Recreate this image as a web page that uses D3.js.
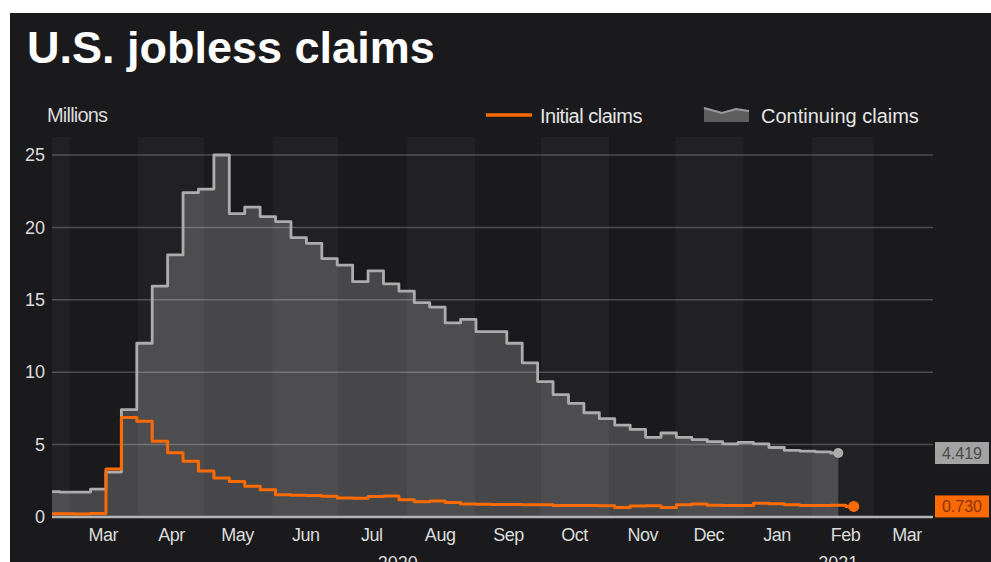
<!DOCTYPE html>
<html>
<head>
<meta charset="utf-8">
<script src="https://cdn.jsdelivr.net/npm/d3@7"></script>
<style>
  html, body { margin: 0; padding: 0; background: #fff; }
  svg { display: block; font-family: "Liberation Sans", Arial, sans-serif; }
</style>
</head>
<body>
<div id="app"></div>
<script>
// weekly data (week ending), millions
const weeks = [
  "2020-02-22", "2020-02-29", "2020-03-07", "2020-03-14", "2020-03-21", "2020-03-28",
  "2020-04-04", "2020-04-11", "2020-04-18", "2020-04-25", "2020-05-02", "2020-05-09",
  "2020-05-16", "2020-05-23", "2020-05-30", "2020-06-06", "2020-06-13", "2020-06-20",
  "2020-06-27", "2020-07-04", "2020-07-11", "2020-07-18", "2020-07-25", "2020-08-01",
  "2020-08-08", "2020-08-15", "2020-08-22", "2020-08-29", "2020-09-05", "2020-09-12",
  "2020-09-19", "2020-09-26", "2020-10-03", "2020-10-10", "2020-10-17", "2020-10-24",
  "2020-10-31", "2020-11-07", "2020-11-14", "2020-11-21", "2020-11-28", "2020-12-05",
  "2020-12-12", "2020-12-19", "2020-12-26", "2021-01-02", "2021-01-09", "2021-01-16",
  "2021-01-23", "2021-01-30", "2021-02-06", "2021-02-13", "2021-02-20"
];

const initialClaims = [
  0.22, 0.22, 0.21, 0.25, 3.31, 6.87, 6.62, 5.24, 4.43, 3.85, 3.18, 2.69,
  2.45, 2.12, 1.88, 1.54, 1.51, 1.48, 1.43, 1.31, 1.30, 1.42, 1.45, 1.19,
  1.05, 1.11, 1.01, 0.90, 0.88, 0.86, 0.87, 0.84, 0.84, 0.80, 0.79, 0.79,
  0.78, 0.66, 0.76, 0.78, 0.66, 0.85, 0.90, 0.82, 0.79, 0.80, 0.95, 0.92,
  0.85, 0.80, 0.80, 0.82, 0.730
];

const continuingClaims = [
  1.75, 1.72, 1.72, 1.92, 3.10, 7.42, 12.0, 15.95, 18.1, 22.4, 22.65, 25.0,
  20.95, 21.4, 20.75, 20.4, 19.3, 18.9, 17.85, 17.4, 16.25, 17.0, 16.1, 15.6,
  14.8, 14.5, 13.4, 13.65, 12.8, 12.8, 12.0, 10.65, 9.35, 8.45, 7.85, 7.2,
  6.8, 6.35, 6.05, 5.5, 5.8, 5.5, 5.35, 5.2, 5.05, 5.15, 5.05, 4.8,
  4.6, 4.55, 4.5, 4.419
];

const yTicks = [0, 5, 10, 15, 20, 25];
const yearLabels = [2020, 2021];

const draw = () => {
    const width = 991;
    const height = 562;
    const left = 52, right = 933, top = 137, base = 517;

    const svg = d3.select('#app')
        .append('svg')
        .attr('width', width)
        .attr('height', height);

    // dark card (white margin top/left as in the screenshot)
    svg.append('rect')
        .attr('x', 10).attr('y', 13)
        .attr('width', width - 10).attr('height', height - 13)
        .attr('fill', '#1a1a1c');

    const parse = d3.timeParse('%Y-%m-%d');
    const dates = weeks.map(parse);

    const x = d3.scaleTime()
        .domain([new Date(2020, 1, 22, 0), new Date(2021, 2, 28, 0)])
        .range([left, right]);
    const y = d3.scaleLinear().domain([0, 25]).range([base, 155]);

    // alternating month bands
    const months = d3.timeMonth.range(new Date(2020, 1, 1), new Date(2021, 3, 1));
    svg.append('g').selectAll('rect')
        .data(months.filter(m => m.getMonth() % 2 === 1))
        .enter()
        .append('rect')
        .attr('x', d => Math.max(left, x(d)))
        .attr('width', d => Math.min(right, x(d3.timeMonth.offset(d, 1))) - Math.max(left, x(d)))
        .attr('y', top)
        .attr('height', base - top)
        .attr('fill', '#212123');

    const cont = dates.slice(0, continuingClaims.length).map((d, i) => ({ date: d, value: continuingClaims[i] }));
    const init = dates.map((d, i) => ({ date: d, value: initialClaims[i] }));

    const area = d3.area()
        .x(d => x(d.date))
        .y0(y(0))
        .y1(d => y(d.value))
        .curve(d3.curveStep);

    svg.append('path')
        .datum(cont)
        .attr('d', area)
        .attr('fill', 'rgba(255,255,255,0.2)');

    // gridlines
    svg.append('g').selectAll('line')
        .data(yTicks.filter(t => t > 0))
        .enter()
        .append('line')
        .attr('x1', left).attr('x2', right)
        .attr('y1', d => y(d)).attr('y2', d => y(d))
        .attr('stroke', 'rgba(255,255,255,0.22)')
        .attr('stroke-width', 1.5);

    const line = d3.line()
        .x(d => x(d.date))
        .y(d => y(d.value))
        .curve(d3.curveStep);

    svg.append('path')
        .datum(cont)
        .attr('d', line)
        .attr('fill', 'none')
        .attr('stroke', '#acacac')
        .attr('stroke-width', 2.8)
        .attr('stroke-linejoin', 'round');

    // zero line
    svg.append('line')
        .attr('x1', left).attr('x2', right)
        .attr('y1', y(0)).attr('y2', y(0))
        .attr('stroke', '#b4b4b4')
        .attr('stroke-width', 2.5);

    svg.append('path')
        .datum(init)
        .attr('d', line)
        .attr('fill', 'none')
        .attr('stroke', '#fa6a05')
        .attr('stroke-width', 3)
        .attr('stroke-linejoin', 'round');

    const lastC = cont[cont.length - 1];
    const lastI = init[init.length - 1];

    svg.append('circle')
        .attr('cx', x(lastC.date)).attr('cy', y(lastC.value))
        .attr('r', 5).attr('fill', '#acacac');
    svg.append('circle')
        .attr('cx', x(lastI.date)).attr('cy', y(lastI.value))
        .attr('r', 5.5).attr('fill', '#fa6a05');

    // end value boxes
    const boxes = [
        { v: lastC.value, bg: '#a3a3a3', fg: '#4a4a4a' },
        { v: lastI.value, bg: '#fa6a05', fg: '#8a3300' }
    ];
    const bx = svg.append('g').selectAll('g')
        .data(boxes)
        .enter()
        .append('g')
        .attr('transform', d => 'translate(935,' + y(d.v) + ')');
    bx.append('rect')
        .attr('x', 0).attr('y', -11)
        .attr('width', 54).attr('height', 22)
        .attr('fill', d => d.bg);
    bx.append('text')
        .attr('x', 27).attr('y', 0).attr('dy', '0.36em')
        .attr('text-anchor', 'middle')
        .attr('font-size', 16)
        .attr('fill', d => d.fg)
        .text(d => d3.format('.3f')(d.v));

    // y axis labels
    const yAxis = svg.append('g')
        .attr('transform', 'translate(45,0)')
        .call(d3.axisLeft(y).tickValues(yTicks).tickSize(0).tickPadding(0));
    yAxis.select('.domain').remove();
    yAxis.selectAll('text')
        .attr('font-size', 18)
        .attr('font-family', '"Liberation Sans", Arial, sans-serif')
        .attr('fill', '#dcdcdc');

    // month labels, centered mid-month
    const mids = d3.timeMonth.range(new Date(2020, 2, 1), new Date(2021, 3, 1))
        .map(m => new Date(m.getFullYear(), m.getMonth(), 16));
    const xAxis = svg.append('g')
        .attr('transform', 'translate(0,' + base + ')')
        .call(d3.axisBottom(x).tickValues(mids).tickFormat(d3.timeFormat('%b')).tickSize(0));
    xAxis.select('.domain').remove();
    xAxis.selectAll('text')
        .attr('y', 24).attr('dy', 0)
        .attr('font-size', 18)
        .attr('letter-spacing', -0.5)
        .attr('font-family', '"Liberation Sans", Arial, sans-serif')
        .attr('fill', '#dcdcdc');

    // year labels (partly below the frame, as in the source)
    svg.append('g').selectAll('text')
        .data(yearLabels)
        .enter()
        .append('text')
        .attr('x', d => {
            const a = Math.max(left, x(new Date(d, 0, 1)));
            const b = Math.min(right, x(new Date(d + 1, 0, 1)));
            return (a + b) / 2;
        })
        .attr('y', 569)
        .attr('text-anchor', 'middle')
        .attr('font-size', 18)
        .attr('fill', '#dcdcdc')
        .text(d => d);

    // title + unit
    svg.append('text')
        .attr('x', 27).attr('y', 63)
        .attr('font-size', 45)
        .attr('font-weight', 'bold')
        .attr('fill', '#ffffff')
        .text('U.S. jobless claims');

    svg.append('text')
        .attr('x', 47).attr('y', 122)
        .attr('font-size', 20)
        .attr('letter-spacing', -0.8)
        .attr('fill', '#dcdcdc')
        .text('Millions');

    // legend
    svg.append('line')
        .attr('x1', 486).attr('x2', 532)
        .attr('y1', 115).attr('y2', 115)
        .attr('stroke', '#fa6a05').attr('stroke-width', 3.5);
    svg.append('text')
        .attr('x', 540).attr('y', 123)
        .attr('font-size', 20)
        .attr('letter-spacing', -0.5)
        .attr('fill', '#e6e6e6')
        .text('Initial claims');

    svg.append('path')
        .attr('d', 'M704,108 L722,113 L736,109 L749,111 L749,122 L704,122 Z')
        .attr('fill', '#5e5e5e');
    svg.append('path')
        .attr('d', 'M704,108 L722,113 L736,109 L749,111')
        .attr('fill', 'none')
        .attr('stroke', '#9a9a9a')
        .attr('stroke-width', 2);
    svg.append('text')
        .attr('x', 761).attr('y', 123)
        .attr('font-size', 20)
        .attr('fill', '#e6e6e6')
        .text('Continuing claims');
};

draw();
</script>
</body>
</html>
